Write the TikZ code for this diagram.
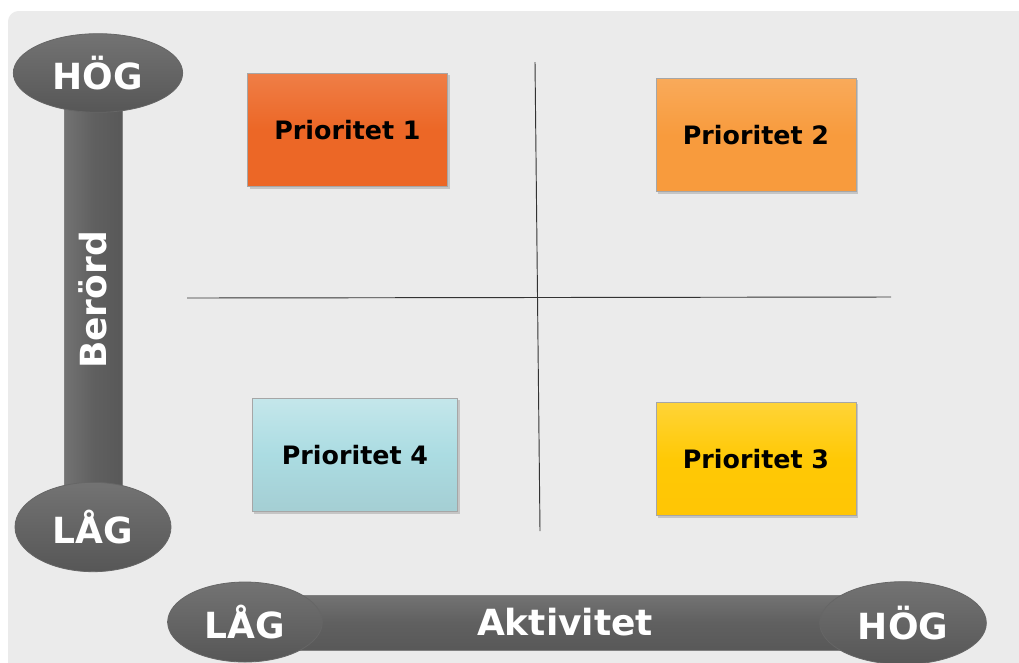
\documentclass[tikz,border=0pt]{standalone}
\usepackage{fontspec}
\setmainfont{DejaVu Sans}
\usetikzlibrary{shadows,shapes.geometric}
\definecolor{bg}{HTML}{EBEBEB}
\definecolor{bar}{HTML}{606060}
\definecolor{barhi}{HTML}{737373}
\definecolor{pone}{HTML}{EC6726}
\definecolor{ptwo}{HTML}{F89B3D}
\definecolor{pthree}{HTML}{FFC905}
\definecolor{pfour}{HTML}{ABDCE2}
\tikzset{
  pbox/.style={draw=black!35, line width=0.6pt, minimum width=150pt, minimum height=85pt,
    font=\fontsize{19}{22}\selectfont\bfseries, text=black,
    drop shadow={shadow xshift=1.5pt, shadow yshift=-1.5pt, opacity=0.35}},
  pill/.style={ellipse, draw=black!60, line width=0.6pt, top color=barhi, bottom color=bar!90!black,
    text=white, font=\fontsize{27}{30}\selectfont\bfseries, inner sep=0pt},
  barstyle/.style={draw=black!50, line width=0.6pt, fill=bar},
  axlabel/.style={text=white, font=\fontsize{27}{30}\selectfont\bfseries},
  divider/.style={draw=black!80, line width=0.7pt}
}
\begin{document}
\begin{tikzpicture}[x=0.75pt,y=-0.75pt]
\useasboundingbox (0,0) rectangle (1019,662);
\clip (0,0) rectangle (1019,662);
\fill[white] (0,0) rectangle (1019,662);
\fill[bg, rounded corners=8pt] (8,11) rectangle (1040,680);
% divider lines
\coordinate (hl) at (187,298);
\coordinate (hr) at (891,297);
\coordinate (vt) at (535,62);
\coordinate (vb) at (540,531);
\draw[divider] (hl) -- (hr);
\draw[divider] (vt) -- (vb);
% vertical axis bar
\draw[barstyle, left color=barhi, right color=bar!92!black, middle color=bar] (64,95) rectangle (122,505);
\node[axlabel, rotate=90] (berord) at (93,300) {Berörd};
\node[pill, minimum width=127pt, minimum height=59pt] (vhog) at (98,73) {HÖG};
\node[pill, minimum width=117pt, minimum height=67pt] (vlag) at (93,527) {LÅG};
% horizontal axis bar
\draw[barstyle, top color=barhi, bottom color=bar!92!black, middle color=bar] (245,595) rectangle (905,650);
\node[axlabel] (akt) at (565,622) {Aktivitet};
\node[pill, minimum width=116pt, minimum height=60pt] (hlag) at (245,622) {LÅG};
\node[pill, minimum width=125pt, minimum height=62pt] (hhog) at (903,623) {HÖG};
% boxes
\node[pbox, top color=pone!85!white, bottom color=pone, middle color=pone] (p1) at (347.5,130) {Prioritet 1};
\node[pbox, top color=ptwo!85!white, bottom color=ptwo, middle color=ptwo] (p2) at (756,135) {Prioritet 2};
\node[pbox, minimum width=154pt, top color=pfour!70!white, bottom color=pfour!85!gray, middle color=pfour] (p4) at (355,455) {Prioritet 4};
\node[pbox, top color=pthree!80!white, bottom color=pthree!95!orange, middle color=pthree] (p3) at (756,459) {Prioritet 3};
\end{tikzpicture}
\end{document}
